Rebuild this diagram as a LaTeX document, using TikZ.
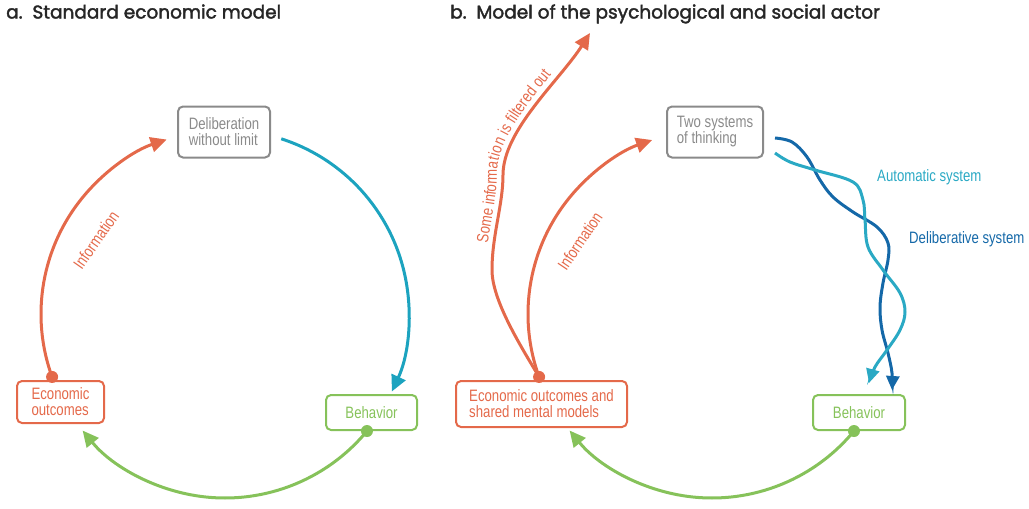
\documentclass[tikz,border=0pt]{standalone}
\usepackage{fontspec}
\setmainfont{Liberation Sans}
\newfontfamily\condf[FakeStretch=0.80]{Liberation Sans}
\newfontfamily\titlef[FakeBold=2]{Poppins}
\usetikzlibrary{arrows.meta,decorations.text}
\definecolor{cred}{HTML}{E4694A}
\definecolor{cgreen}{HTML}{86C25A}
\definecolor{cteal}{HTML}{1CA3BF}
\definecolor{cauto}{HTML}{2AA9C4}
\definecolor{cdark}{HTML}{1468A8}
\definecolor{cgray}{HTML}{8A8A8A}
\begin{document}
\begin{tikzpicture}[x=1pt,y=1pt,
  box/.style={draw, line width=2pt, rounded corners=5pt, inner sep=0pt,
    font=\condf\fontsize{16.5}{16}\selectfont, align=left},
  conn/.style={line width=3pt, -{Triangle[length=16pt,width=15pt]}},
  wave/.style={line width=3pt, -{Triangle[length=14pt,width=13pt]}},
  lab/.style={font=\condf\fontsize{16.5}{16}\selectfont, inner sep=0pt},
  ttl/.style={font=\titlef\fontsize{18.5}{20}\selectfont, anchor=base west, inner sep=0pt, text=black!85},
  dotst/.style={circle, inner sep=0pt, minimum size=12pt}
]
\path[use as bounding box] (0,0) rectangle (1029,-509);

% titles
\node[ttl] (ta) at (6,-18.5) {a.\ \ Standard economic model};
\node[ttl] (tb) at (450,-18.5) {b.\ \ Model of the psychological and social actor};

% ---------- panel a ----------
\coordinate (c1) at (225,-314);
\node[box, draw=cgray, text=cgray, minimum width=92pt, minimum height=51pt] (delib) at (224,-132) {Deliberation\\without limit};
\node[box, draw=cred, text=cred, minimum width=87pt, minimum height=42pt] (eco1) at (60.5,-402) {Economic\\outcomes};
\node[box, draw=cgreen, text=cgreen, minimum width=91pt, minimum height=35pt] (beh1) at (371.5,-412.5) {Behavior};

\coordinate (d1) at ([shift={(200:184pt)}]c1);
\coordinate (b1) at ([shift={(72.2:184pt)}]c1);
\coordinate (g1) at ([shift={(-39.5:184pt)}]c1);

\draw[conn, cred] (d1) arc[start angle=200, end angle=108.5, radius=184pt];
\draw[conn, cteal] (b1) arc[start angle=72.2, end angle=-24.9, radius=184pt];
\draw[conn, cgreen] (g1) arc[start angle=-39.5, end angle=-140.7, radius=184pt];
\node[dotst, fill=cred] (dot1) at (d1) {};
\node[dotst, fill=cgreen] (gdot1) at (g1) {};

\node[lab, text=cred, rotate=55] (inf1) at (96,-240) {Information};

% ---------- panel b ----------
\coordinate (c2) at (712,-314);
\node[box, draw=cgray, text=cgray, minimum width=96pt, minimum height=51pt] (two) at (715,-132) {Two systems\\of thinking};
\node[box, draw=cred, text=cred, minimum width=171pt, minimum height=46pt] (eco2) at (541.5,-404) {Economic outcomes and\\shared mental models};
\node[box, draw=cgreen, text=cgreen, minimum width=92pt, minimum height=35pt] (beh2) at (859,-412.5) {Behavior};

\coordinate (d2) at ([shift={(200:184pt)}]c2);
\coordinate (g2) at ([shift={(-39.5:184pt)}]c2);
\coordinate (m2) at (492,-270);
\coordinate (f2) at (590,-33);

\draw[conn, cred] (d2) arc[start angle=200, end angle=109, radius=184pt];
\draw[conn, cred] (d2) .. controls (520,-345) and (492,-300) .. (m2)
   .. controls (492,-235) and (503,-205) .. (503,-175)
   .. controls (503,-130) and (560,-80) .. (f2);
\path[decorate, decoration={text along path, raise=6pt, text color=cred,
    text align={left indent=26pt},
    text={|\condf\fontsize{16.5}{16}\selectfont|Some information is filtered out}}]
   (m2) .. controls (492,-235) and (503,-205) .. (503,-175)
   .. controls (503,-130) and (560,-80) .. (f2);
\draw[conn, cgreen] (g2) arc[start angle=-39.5, end angle=-140.7, radius=184pt];
\node[dotst, fill=cred] (dot2) at (d2) {};
\node[dotst, fill=cgreen] (gdot2) at (g2) {};

\node[lab, text=cred, rotate=56] (inf2) at (580,-241) {Information};

% wavy systems
\coordinate (ws1) at (775,-138);
\coordinate (ws2) at (775,-153);
\coordinate (we1) at (892,-390);
\coordinate (we2) at (869,-383);
\draw[wave, cdark] plot[smooth, tension=0.6] coordinates {(ws1) (792,-142) (807,-157) (820,-180) (833,-197) (853,-212) (877,-227) (888,-243) (888,-260) (883,-283) (880,-307) (882,-330) (888,-353) (892,-373) (we1)};
\draw[wave, cauto] plot[smooth, tension=0.6] coordinates {(ws2) (790,-162) (815,-170) (853,-182) (863,-200) (865,-220) (868,-247) (883,-270) (900,-293) (905,-312) (900,-330) (887,-350) (875,-367) (we2)};

\node[lab, text=cauto, anchor=base west] (autol) at (877,-181.5) {Automatic system};
\node[lab, text=cdark, anchor=base west] (delibl) at (909,-243.5) {Deliberative system};
\end{tikzpicture}
\end{document}
